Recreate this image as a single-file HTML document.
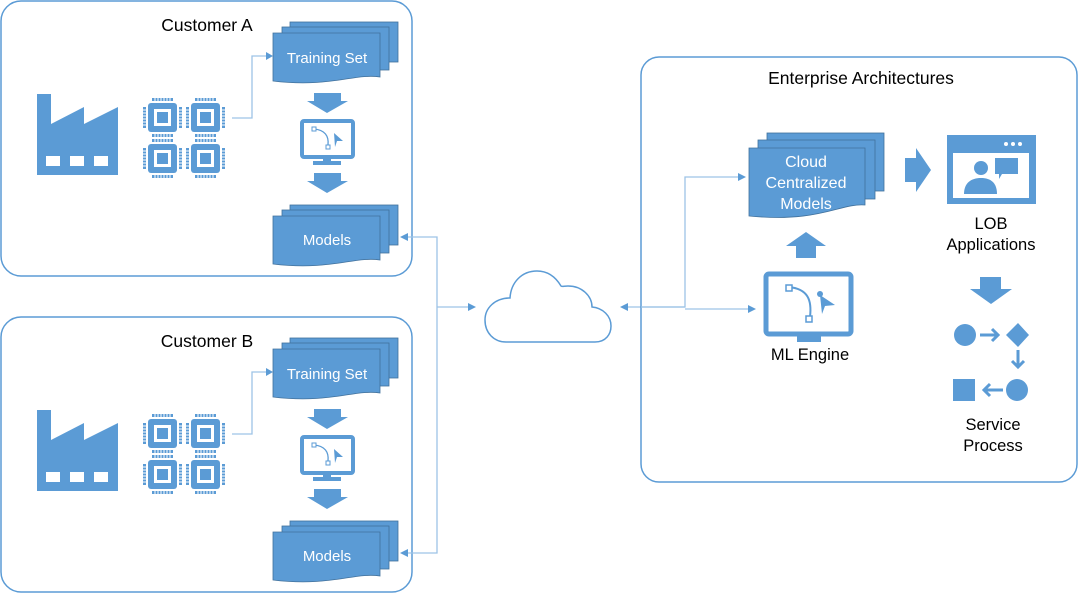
<!DOCTYPE html>
<html><head><meta charset="utf-8"><style>
html,body{margin:0;padding:0;background:#fff}
svg{display:block}
</style></head><body>
<svg width="1080" height="594" viewBox="0 0 1080 594" xmlns="http://www.w3.org/2000/svg" font-family="Liberation Sans, sans-serif" font-size="15">
<defs>
<symbol id="chip" overflow="visible">
  <rect x="0" y="0" width="29" height="29" rx="3" fill="#5b9bd5"/>
  <rect x="6" y="6" width="17" height="17" fill="#fff"/>
  <rect x="9" y="9" width="11" height="11" fill="#5b9bd5"/>
  <g fill="#5b9bd5">
    <rect x="4" y="-5" width="21" height="3" />
    <rect x="4" y="31" width="21" height="3" />
    <rect x="-5" y="4" width="3" height="21" />
    <rect x="31" y="4" width="3" height="21" />
  </g>
  <g stroke="#fff" stroke-width="1">
    <path d="M7 -6v5M10 -6v5M13 -6v5M16 -6v5M19 -6v5M22 -6v5M7 30v5M10 30v5M13 30v5M16 30v5M19 30v5M22 30v5"/>
    <path d="M-6 7h5M-6 10h5M-6 13h5M-6 16h5M-6 19h5M-6 22h5M30 7h5M30 10h5M30 13h5M30 16h5M30 19h5M30 22h5"/>
  </g>
</symbol>
<symbol id="cust" overflow="visible">
  <rect x="1" y="1" width="411" height="275" rx="20" fill="#fff" stroke="#5b9bd5" stroke-width="1.5"/>
  <path d="M37 175 V94 H51 V124 L84 107 V124 L118 107 V175 Z" fill="#5b9bd5"/>
  <rect x="46" y="156" width="14" height="10" fill="#fff"/>
  <rect x="70" y="156" width="14" height="10" fill="#fff"/>
  <rect x="94" y="156" width="14" height="10" fill="#fff"/>
  <use href="#chip" x="148" y="103"/>
  <use href="#chip" x="191" y="103"/>
  <use href="#chip" x="148" y="144"/>
  <use href="#chip" x="191" y="144"/>
  <path d="M232 118 H252 V56 H266" fill="none" stroke="#9dc3e6" stroke-width="1.3"/>
  <path d="M266 52 L273 56 L266 60 Z" fill="#5b9bd5"/>
  <g fill="#5b9bd5" stroke="#41719c" stroke-width="0.8">
    <rect x="290" y="22" width="108" height="40"/>
    <rect x="282" y="27" width="107" height="43"/>
    <path d="M273 33 H380 V77 C355 73 330 88 273 81 Z"/>
  </g>
  <text x="327" y="63" text-anchor="middle" fill="#fff" font-size="15">Training Set</text>
  <path d="M314 93 H341 V101 H348 L327 113 L307 101 H314 Z" fill="#5b9bd5"/>
  <rect x="302" y="121" width="51" height="36" rx="2" fill="none" stroke="#5b9bd5" stroke-width="4"/>
  <rect x="323" y="157" width="8" height="5" fill="#5b9bd5"/>
  <rect x="313" y="161" width="28" height="4" fill="#5b9bd5"/>
  <path d="M314 129 C325 130 329 136 328 145" fill="none" stroke="#5b9bd5" stroke-width="1.3"/>
  <rect x="312" y="127" width="4" height="4" fill="#fff" stroke="#5b9bd5"/>
  <rect x="326" y="145" width="4" height="4" fill="#fff" stroke="#5b9bd5"/>
  <path d="M334 133 L343 141 L337 141 L335 147 Z" fill="#5b9bd5"/>
  <path d="M314 173 H341 V181 H348 L327 193 L307 181 H314 Z" fill="#5b9bd5"/>
  <g fill="#5b9bd5" stroke="#41719c" stroke-width="0.8">
    <rect x="290" y="205" width="108" height="40"/>
    <rect x="282" y="210" width="107" height="43"/>
    <path d="M273 216 H380 V260 C355 256 330 271 273 264 Z"/>
  </g>
  <text x="327" y="245" text-anchor="middle" fill="#fff" font-size="15">Models</text>
</symbol>
</defs>

<use href="#cust" x="0" y="0"/>
<use href="#cust" x="0" y="316"/>
<text x="207" y="31" text-anchor="middle" font-size="17.5" fill="#000">Customer  A</text>
<text x="207" y="347" text-anchor="middle" font-size="17.5" fill="#000">Customer  B</text>

<g fill="none" stroke="#9dc3e6" stroke-width="1.3">
  <path d="M407 237 H437 V553 H407"/>
  <path d="M437 307 H468"/>
  <path d="M627 307 H685 V177 H738"/>
  <path d="M685 309 H748"/>
</g>
<g fill="#5b9bd5">
  <path d="M400 237 L408 233 L408 241 Z"/>
  <path d="M400 553 L408 549 L408 557 Z"/>
  <path d="M476 307 L468 303 L468 311 Z"/>
  <path d="M620 307 L628 303 L628 311 Z"/>
  <path d="M746 177 L738 173 L738 181 Z"/>
  <path d="M756 309 L748 305 L748 313 Z"/>
</g>

<path d="M506 342 H595 C606 342 611 334 611 326 C611 316 603 308 592 307 C592 296 582 286 568 286 C564 286 562 287 561 286 C555 276 547 271 537 271 C522 271 511 282 510 298 C495 298 485 308 485 320 C485 333 494 342 506 342 Z" fill="#fff" stroke="#5b9bd5" stroke-width="1.5"/>

<rect x="641" y="57" width="436" height="425" rx="18" fill="none" stroke="#5b9bd5" stroke-width="1.5"/>
<path d="M641 307 H685" stroke="#9dc3e6" stroke-width="1.3"/>
<text x="861" y="84" text-anchor="middle" font-size="17.5" fill="#000">Enterprise Architectures</text>

<g fill="#5b9bd5" stroke="#41719c" stroke-width="0.8">
  <rect x="767" y="133" width="117" height="58"/>
  <rect x="758" y="140" width="117" height="59"/>
  <path d="M749 148 H865 V205 C840 203 820 223 749 216 Z"/>
</g>
<g fill="#fff" text-anchor="middle" font-size="16">
  <text x="806" y="167">Cloud</text>
  <text x="806" y="188">Centralized</text>
  <text x="806" y="209">Models</text>
</g>
<path d="M796 258 V246 H786 L806 232 L826 246 H816 V258 Z" fill="#5b9bd5"/>

<rect x="766" y="274" width="85" height="60" rx="3" fill="none" stroke="#5b9bd5" stroke-width="5"/>
<rect x="797" y="334" width="24" height="8" fill="#5b9bd5"/>
<path d="M789 287 C808 289 812 300 810 317" fill="none" stroke="#5b9bd5" stroke-width="2"/>
<rect x="786" y="285" width="6" height="6" fill="#fff" stroke="#5b9bd5" stroke-width="1.5"/>
<rect x="806" y="316" width="6" height="6" fill="#fff" stroke="#5b9bd5" stroke-width="1.5"/>
<circle cx="820" cy="294" r="3" fill="#5b9bd5"/>
<path d="M820 295 L835 305 L825 306 L822 314 Z" fill="#5b9bd5"/>
<text x="810" y="360" text-anchor="middle" font-size="16.5" fill="#000">ML Engine</text>

<path d="M905 158 H916 V148 L931 170 L916 192 V182 H905 Z" fill="#5b9bd5"/>

<rect x="947" y="135" width="89" height="69" fill="#5b9bd5"/>
<rect x="953" y="153" width="76" height="45" fill="#fff"/>
<circle cx="1006" cy="144" r="2" fill="#fff"/>
<circle cx="1013" cy="144" r="2" fill="#fff"/>
<circle cx="1020" cy="144" r="2" fill="#fff"/>
<circle cx="981" cy="168" r="7" fill="#5b9bd5"/>
<path d="M964 194 C964 183 971 178 981 178 C991 178 997 183 997 194 Z" fill="#5b9bd5"/>
<path d="M995 158 H1018 V174 H1002 L999 179 V174 H995 Z" fill="#5b9bd5"/>
<g text-anchor="middle" font-size="16.5" fill="#000">
  <text x="991" y="229">LOB</text>
  <text x="991" y="250">Applications</text>
  <text x="993" y="430">Service</text>
  <text x="993" y="451">Process</text>
</g>
<path d="M980 277 H1001 V289 H1012 L991 304 L970 289 H980 Z" fill="#5b9bd5"/>

<circle cx="965" cy="335" r="11" fill="#5b9bd5"/>
<path d="M1018 323 L1029 335 L1018 347 L1006 335 Z" fill="#5b9bd5"/>
<path d="M980 335 H998 M992 329 L998 335 L992 341" fill="none" stroke="#5b9bd5" stroke-width="3"/>
<path d="M1018 350 V367 M1012 361 L1018 367 L1024 361" fill="none" stroke="#5b9bd5" stroke-width="3"/>
<circle cx="1017" cy="390" r="11" fill="#5b9bd5"/>
<rect x="953" y="379" width="22" height="22" fill="#5b9bd5"/>
<path d="M1003 390 H984 M990 384 L984 390 L990 396" fill="none" stroke="#5b9bd5" stroke-width="3"/>
</svg>
</body></html>
